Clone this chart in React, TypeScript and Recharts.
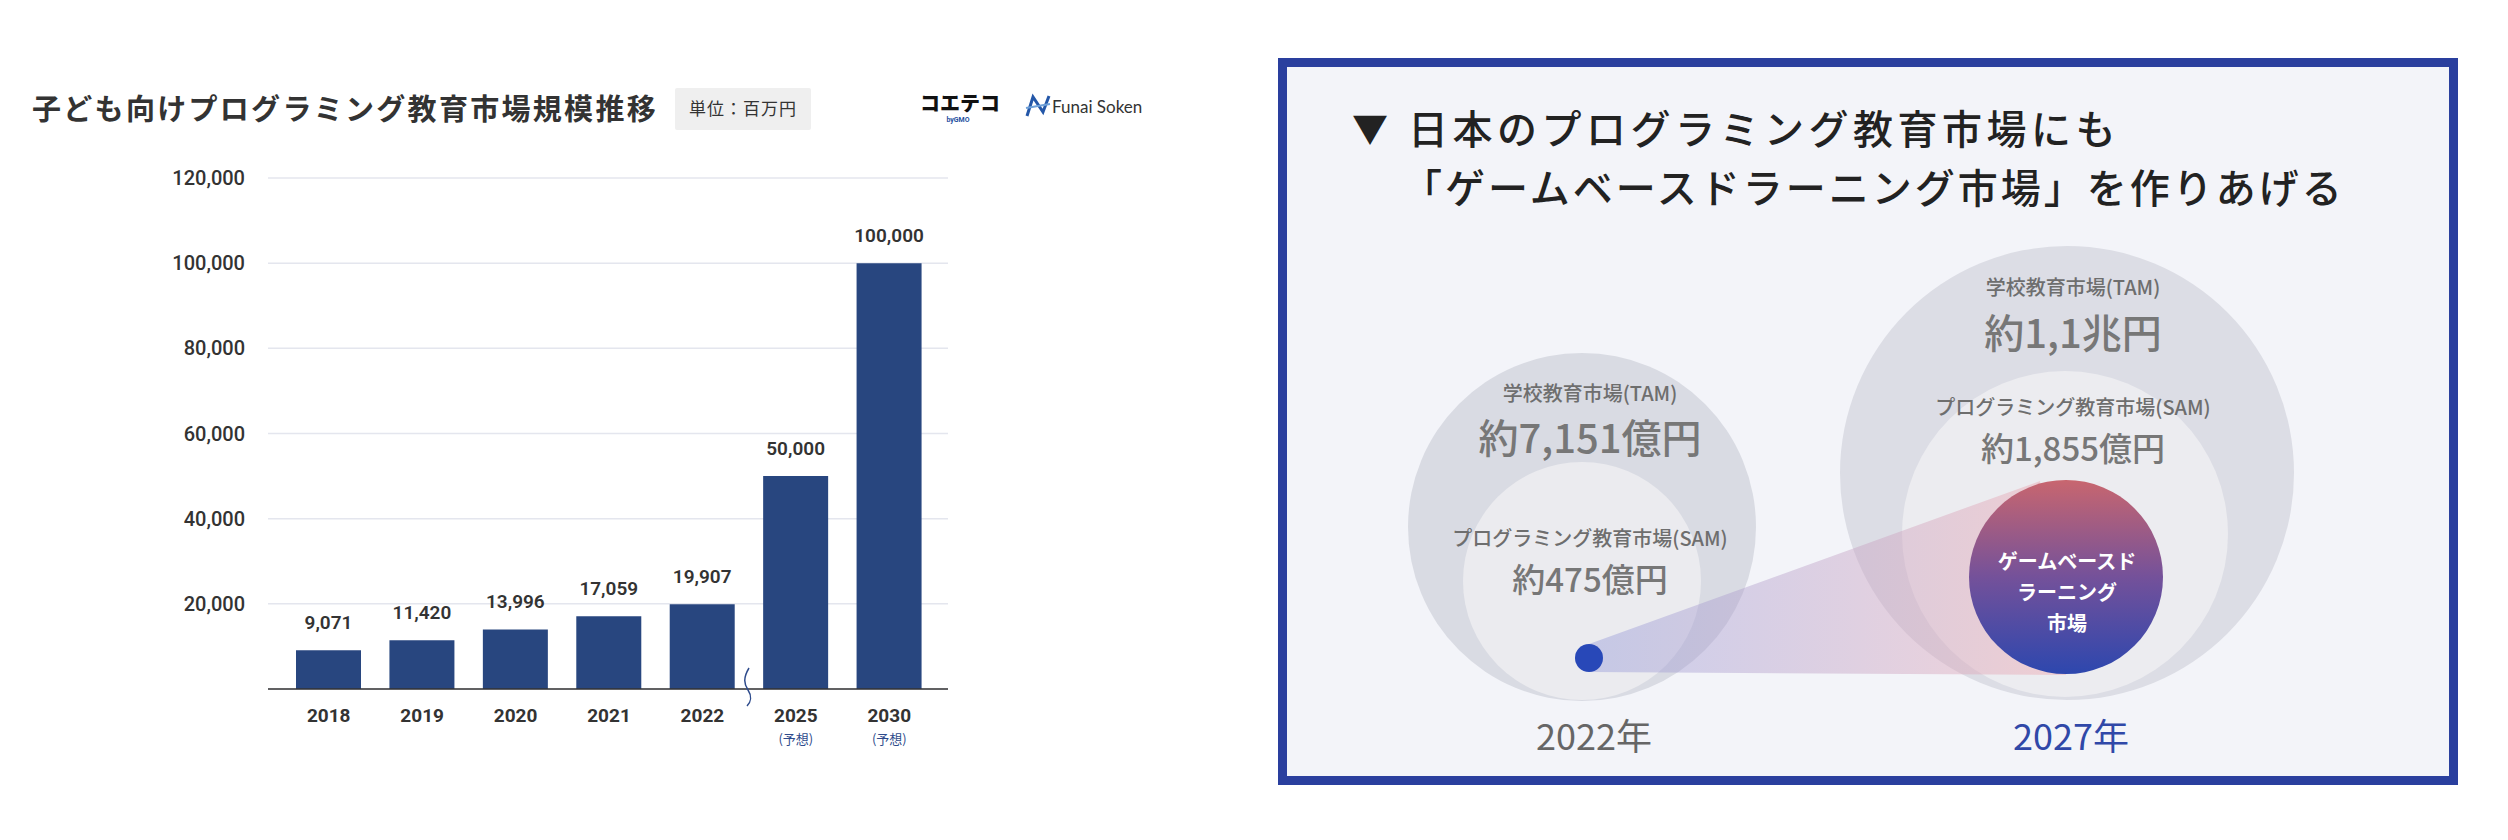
import {
  BarChart,
  Bar,
  XAxis,
  YAxis,
  CartesianGrid,
  LabelList,
  Surface,
  Dot,
  Polygon,
} from "recharts";

// left chart data
const years = ["2018", "2019", "2020", "2021", "2022", "2025", "2030"];
const marketSize = [9071, 11420, 13996, 17059, 19907, 50000, 100000];
const forecastYears = ["2025", "2030"];
const yTicks = [20000, 40000, 60000, 80000, 100000, 120000];

// right panel text
const panelYears = ["2022年", "2027年"];
const tamValues = ["約7,151億円", "約1,1兆円"];
const samValues = ["約475億円", "約1,855億円"];
const tamLabel = "学校教育市場(TAM)";
const samLabel = "プログラミング教育市場(SAM)";
const gblLines = ["ゲームベースド", "ラーニング", "市場"];

const chartData = years.map((year, i) => ({ year, value: marketSize[i] }));

const NUM_FONT = "Roboto, 'Noto Sans CJK JP', sans-serif";
const JP_FONT = "'Noto Sans CJK JP', sans-serif";
const BAR_COLOR = "#28467f";

function YearTick({ x, y, payload }: any) {
  const forecast = forecastYears.includes(payload.value);
  return (
    <g>
      <text
        x={x}
        y={y + 33}
        textAnchor="middle"
        fontSize={19}
        fontWeight={700}
        fill="#333"
        fontFamily={NUM_FONT}
      >
        {payload.value}
      </text>
      {forecast && (
        <text
          x={x}
          y={y + 55}
          textAnchor="middle"
          fontSize={13}
          fill="#2e4b8c"
          fontFamily={JP_FONT}
        >
          (予想)
        </text>
      )}
    </g>
  );
}

function Header() {
  return (
    <svg
      width={1200}
      height={160}
      style={{ position: "absolute", left: 0, top: 0 }}
    >
      <text
        x={32}
        y={120}
        fontSize={29}
        fontWeight={700}
        fill="#333"
        fontFamily={JP_FONT}
        style={{ letterSpacing: 2.3 }}
      >
        子ども向けプログラミング教育市場規模推移
      </text>
      <rect x={675} y={88} width={136} height={42} rx={2} fill="#efefef" />
      <text
        x={743}
        y={115}
        textAnchor="middle"
        fontSize={17}
        fill="#333"
        fontFamily={JP_FONT}
        style={{ letterSpacing: 1 }}
      >
        単位：百万円
      </text>
      {/* logos */}
      <text
        x={920}
        y={111}
        fontSize={20}
        fontWeight={900}
        fill="#111"
        fontFamily={JP_FONT}
      >
        コエテコ
      </text>
      <text
        x={958}
        y={122}
        textAnchor="middle"
        fontSize={7}
        fontWeight={700}
        fill="#1f4fa0"
        fontFamily={NUM_FONT}
      >
        byGMO
      </text>
      <path
        d="M1027 116 L1033 97 L1043 112 L1049 96"
        stroke="#2457a8"
        strokeWidth={3}
        fill="none"
      />
      <path d="M1026 108 L1050 104" stroke="#6ea0d8" strokeWidth={2} fill="none" />
      <text
        x={1052}
        y={113}
        fontSize={17}
        fill="#333"
        fontFamily="Lato, sans-serif"
      >
        Funai Soken
      </text>
    </svg>
  );
}

function BreakMark() {
  return (
    <svg
      width={30}
      height={50}
      style={{ position: "absolute", left: 735, top: 662 }}
    >
      <path
        d="M14 6 C8 16, 9 22, 13 28 C17 34, 16 40, 12 44"
        stroke="#2e4b8c"
        strokeWidth={1.5}
        fill="none"
      />
    </svg>
  );
}

function MarketPanel() {
  const grayLabel = { fontFamily: JP_FONT, fill: "#6e6e6e" };
  return (
    <div style={{ position: "absolute", left: 1270, top: 0 }}>
      <Surface
        width={1238}
        height={840}
        viewBox={{ x: 1270, y: 0, width: 1238, height: 840 }}
      >
        <defs>
          <linearGradient id="gblFill" x1="0" y1="0" x2="0" y2="1">
            <stop offset="0%" stopColor="#c8666f" />
            <stop offset="50%" stopColor="#74519a" />
            <stop offset="100%" stopColor="#2d47ae" />
          </linearGradient>
          <linearGradient
            id="coneFill"
            gradientUnits="userSpaceOnUse"
            x1="1589"
            y1="0"
            x2="2060"
            y2="0"
          >
            <stop offset="0%" stopColor="#8d94d8" stopOpacity={0.4} />
            <stop offset="100%" stopColor="#f0a9b0" stopOpacity={0.45} />
          </linearGradient>
        </defs>
        <rect
          x={1282.5}
          y={62.5}
          width={1171}
          height={718}
          fill="#f3f4f9"
          stroke="#2a3f9e"
          strokeWidth={9}
        />
        <text
          x={1352}
          y={143}
          fontSize={36}
          fill="#222"
          fontFamily={JP_FONT}
        >
          ▼
        </text>
        <text
          x={1408}
          y={144}
          fontSize={40}
          fontWeight={500}
          fill="#222"
          fontFamily={JP_FONT}
          style={{ letterSpacing: 4.5 }}
        >
          日本のプログラミング教育市場にも
        </text>
        <text
          x={1402}
          y={203}
          fontSize={40}
          fontWeight={500}
          fill="#222"
          fontFamily={JP_FONT}
          style={{ letterSpacing: 3 }}
        >
          「ゲームベースドラーニング市場」を作りあげる
        </text>

        {/* 2022 */}
        <Dot cx={1582} cy={527} r={174} fill="#d9dbe3" />
        <Dot cx={1582} cy={581} r={119} fill="#ebebef" />
        {/* 2027 */}
        <Dot cx={2067} cy={473} r={227} fill="#dcdde5" />
        <Dot cx={2065} cy={534} r={163} fill="#ececf0" />

        <Polygon
          points={[
            { x: 1589, y: 644 },
            { x: 2040, y: 481 },
            { x: 2066, y: 675 },
            { x: 1589, y: 672 },
          ]}
          fill="url(#coneFill)"
          stroke="none"
        />
        <Dot cx={2066} cy={577} r={97} fill="url(#gblFill)" />
        <Dot cx={1589} cy={658} r={14} fill="#2848b8" />

        {[1590, 2073].map((cx, i) => (
          <g key={panelYears[i]}>
            <text
              x={cx}
              y={i === 0 ? 392 : 286}
              textAnchor="middle"
              dominantBaseline="central"
              fontSize={20}
              fontWeight={500}
              {...grayLabel}
            >
              {tamLabel}
            </text>
            <text
              x={cx}
              y={i === 0 ? 436 : 331}
              textAnchor="middle"
              dominantBaseline="central"
              fontSize={40}
              fontWeight={500}
              fill="#777"
              fontFamily={JP_FONT}
            >
              {tamValues[i]}
            </text>
            <text
              x={cx}
              y={i === 0 ? 537 : 406}
              textAnchor="middle"
              dominantBaseline="central"
              fontSize={20}
              fontWeight={500}
              {...grayLabel}
            >
              {samLabel}
            </text>
            <text
              x={cx}
              y={i === 0 ? 578 : 447}
              textAnchor="middle"
              dominantBaseline="central"
              fontSize={33}
              fontWeight={500}
              fill="#777"
              fontFamily={JP_FONT}
            >
              {samValues[i]}
            </text>
            <text
              x={i === 0 ? 1594 : 2071}
              y={734}
              textAnchor="middle"
              dominantBaseline="central"
              fontSize={36}
              fill={i === 0 ? "#666" : "#3048a8"}
              fontFamily={JP_FONT}
            >
              {panelYears[i]}
            </text>
          </g>
        ))}

        {gblLines.map((line, i) => (
          <text
            key={line}
            x={2067}
            y={560 + i * 31}
            textAnchor="middle"
            dominantBaseline="central"
            fontSize={20}
            fontWeight={700}
            fill="#fff"
            fontFamily={JP_FONT}
          >
            {line}
          </text>
        ))}
      </Surface>
    </div>
  );
}

export default function App() {
  return (
    <div
      style={{
        position: "absolute",
        left: 0,
        top: 0,
        width: 2508,
        height: 840,
        background: "#fff",
        overflow: "hidden",
      }}
    >
      <Header />
      <div style={{ position: "absolute", left: 0, top: 0 }}>
        <BarChart
          width={960}
          height={761}
          data={chartData}
          margin={{ top: 178, right: 12, left: 0, bottom: 0 }}
        >
          <CartesianGrid vertical={false} stroke="#e4e6ee" strokeWidth={1.5} />
          <XAxis
            dataKey="year"
            height={72}
            padding={{ left: 14, right: 12 }}
            tickLine={false}
            tickSize={0}
            tickMargin={0}
            axisLine={{ stroke: "#333", strokeWidth: 1.5 }}
            tick={<YearTick />}
            interval={0}
          />
          <YAxis
            width={268}
            domain={[0, 120000]}
            ticks={yTicks}
            axisLine={false}
            tickLine={false}
            tickSize={0}
            tickMargin={23}
            tick={{
              fontSize: 20,
              fill: "#333",
              fontWeight: 500,
              fontFamily: NUM_FONT,
            }}
            tickFormatter={(v: number) => v.toLocaleString("en-US")}
          />
          <Bar
            dataKey="value"
            fill={BAR_COLOR}
            barSize={65}
            isAnimationActive={false}
          >
            <LabelList
              dataKey="value"
              position="top"
              offset={21}
              fill="#333"
              fontSize={19}
              fontWeight={600}
              fontFamily={NUM_FONT}
              formatter={(v: any) => Number(v).toLocaleString("en-US")}
            />
          </Bar>
        </BarChart>
      </div>
      <BreakMark />
      <MarketPanel />
    </div>
  );
}
